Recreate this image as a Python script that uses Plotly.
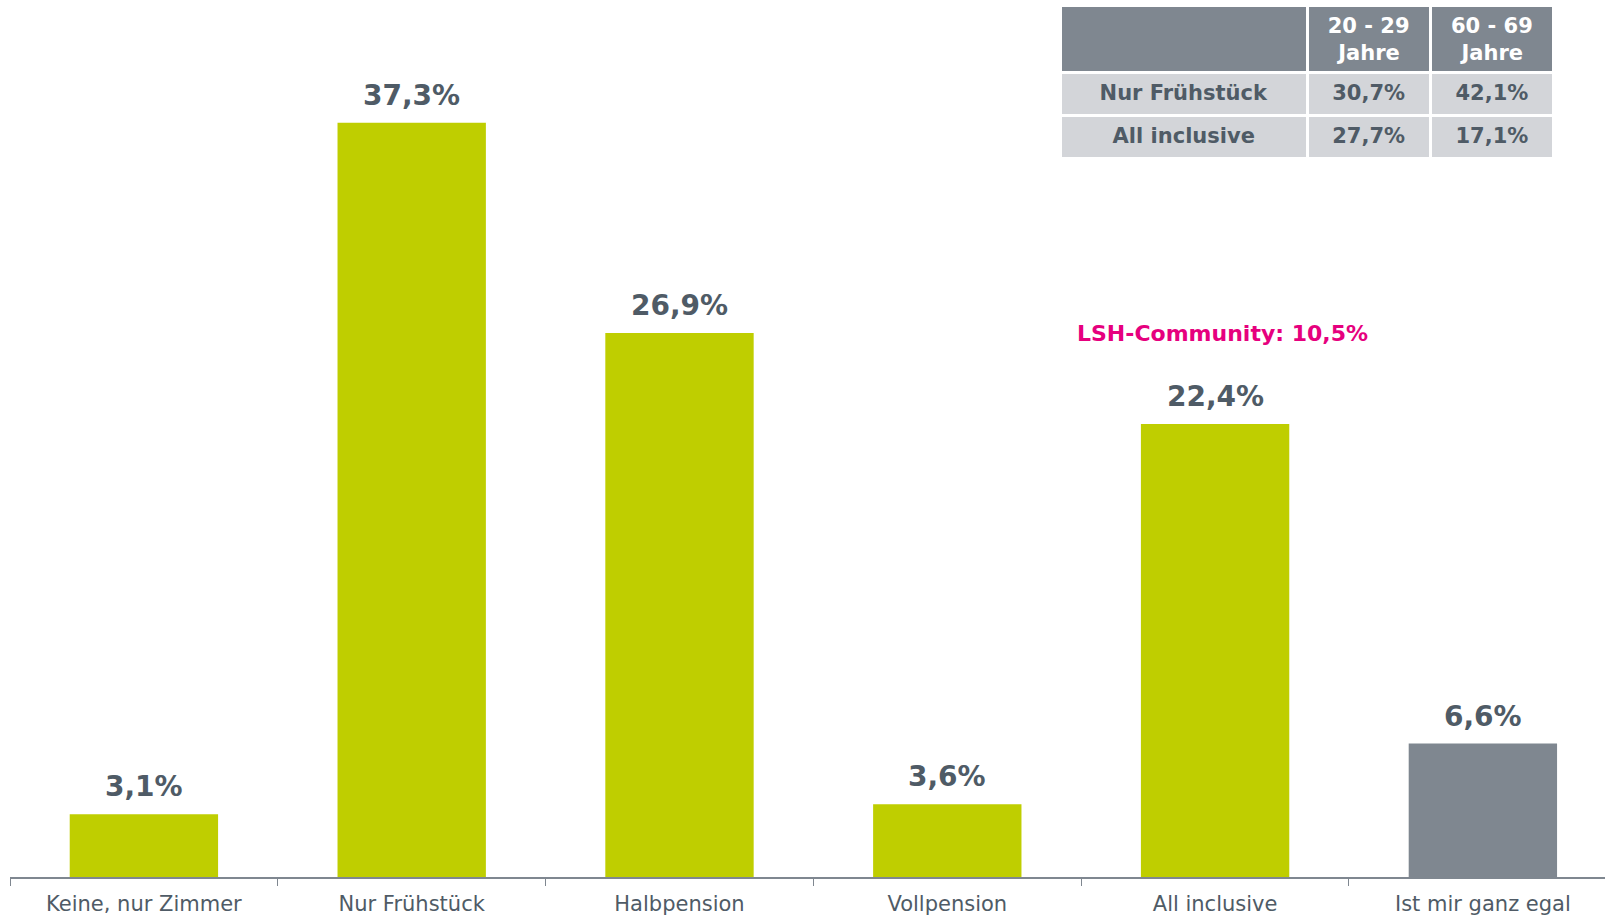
import plotly.graph_objects as go

categories = ["Keine, nur Zimmer", "Nur Frühstück", "Halbpension", "Vollpension", "All inclusive", "Ist mir ganz egal"]
values = [3.1, 37.3, 26.9, 3.6, 22.4, 6.6]
value_labels = ["3,1%", "37,3%", "26,9%", "3,6%", "22,4%", "6,6%"]
bar_colors = ["#BFCE00", "#BFCE00", "#BFCE00", "#BFCE00", "#BFCE00", "#7F8790"]

table_header = ["", "20 - 29<br>Jahre", "60 - 69<br>Jahre"]
table_rows = ["Nur Frühstück", "All inclusive"]
table_20_29 = ["30,7%", "27,7%"]
table_60_69 = ["42,1%", "17,1%"]

community_note = "LSH-Community: 10,5%"

TEXT = "#4F5B66"
FONT = "DejaVu Sans"


def bold(s, pad_lines=False):
    parts = s.split("<br>")
    out = []
    for i, p in enumerate(parts):
        if not p:
            out.append("")
            continue
        # plotly tables left-align wrapped lines; indent the shorter 2nd line to centre it
        prefix = "\u2002" if (pad_lines and i > 0) else ""
        out.append(f"<b>{prefix}{p}</b>")
    return "<br>".join(out)


fig = go.Figure()
fig.add_trace(go.Bar(
    x=categories, y=values, marker=dict(color=bar_colors, line=dict(width=0)),
    width=0.554, showlegend=False, hoverinfo="skip",
))

for c, v, t in zip(categories, values, value_labels):
    fig.add_annotation(x=c, y=v, text=f"<b>{t}</b>", showarrow=False,
                       yanchor="bottom", yshift=9,
                       font=dict(family=FONT, size=28, color=TEXT))

fig.add_annotation(x=4.026, y=26.9, text=f"<b>{community_note}</b>", showarrow=False,
                   xref="x", yref="y",
                   font=dict(family=FONT, size=22, color="#E6007E"))

fig.add_trace(go.Table(
    domain=dict(x=[1050.5 / 1595, 1544.5 / 1595], y=[0.5, (877 - 5.5) / 877]),
    columnwidth=[244, 122, 122],
    header=dict(values=[bold(h, pad_lines=True) for h in table_header],
                fill_color="#7F8790", line=dict(color="white", width=3),
                font=dict(family=FONT, size=21, color="white"),
                align="center", height=66),
    cells=dict(values=[[bold(r) for r in table_rows],
                       [bold(r) for r in table_20_29],
                       [bold(r) for r in table_60_69]],
               fill_color="#D3D5D9", line=dict(color="white", width=3),
               font=dict(family=FONT, size=21, color=TEXT),
               align="center", height=43),
))

fig.update_layout(
    width=1605, height=917,
    margin=dict(l=10, r=0, t=0, b=40),
    paper_bgcolor="white", plot_bgcolor="white",
    xaxis=dict(range=[-0.5, 5.456], showline=True, linecolor="#7F8790", linewidth=1.5,
               ticks="outside", tickson="boundaries", ticklen=7, tickcolor="#7F8790",
               ticklabelstandoff=7, automargin=False,
               tickfont=dict(family=FONT, size=21, color=TEXT), showgrid=False, fixedrange=True),
    yaxis=dict(range=[0, 877 / 20.22], visible=False, showgrid=False, zeroline=False),
)

fig.write_html("out.html", config={"displayModeBar": False},
               post_script="document.body.style.margin='0px';")
